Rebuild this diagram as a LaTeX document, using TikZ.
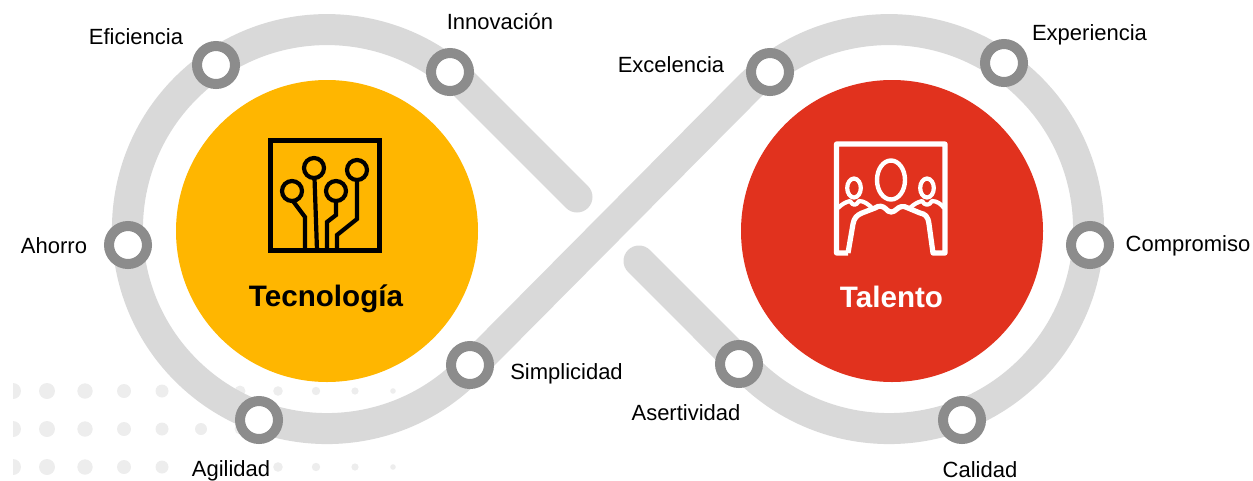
\documentclass[tikz,border=0pt]{standalone}
\usepackage{fontspec}
\setmainfont{Liberation Sans}
\definecolor{band}{HTML}{D9D9D9}
\definecolor{ringc}{HTML}{8C8C8C}
\definecolor{dotc}{HTML}{EDEDED}
\definecolor{amber}{HTML}{FFB600}
\definecolor{redc}{HTML}{E1321E}
\tikzset{
 marker/.style={circle,draw=ringc,line width=10pt,fill=white,minimum size=38pt,inner sep=0pt},
 lab/.style={font=\fontsize{22}{24}\selectfont,text=black,inner sep=0pt},
 bigc/.style={circle,minimum size=302pt,inner sep=0pt},
 title/.style={font=\fontsize{29.6}{32}\selectfont\bfseries,inner sep=0pt},
 bandl/.style={draw=band,line width=31pt,line cap=round,line join=round},
 ic/.style={draw=black,line width=4.5pt,line join=miter},
 wh/.style={draw=white,line width=5.2pt,line join=round,line cap=butt},
}
\begin{document}
\begin{tikzpicture}[x=1pt,y=-1pt]
\useasboundingbox (0,0) rectangle (1253,480);
% dots
\foreach \yy in {391,429,467}{
 \foreach \xx/\rr in {13/8,47/8,85/7.7,124/7,162/6.5,201/6,240/5.5,278/4.8,316/4.2,355/3.6,393/2.8}{
  \fill[dotc] (\xx,\yy) circle[radius=\rr];
 }
}
\fill[white] (0,380) rectangle (13,480);
% band
\coordinate (endA) at (577,197);
\coordinate (endB) at (639,261);
\draw[bandl] (endA) -- (468,88) arc[start angle=-45,end angle=-315,radius=199.5] -- (748,88) arc[start angle=-135,end angle=135,radius=199.5] -- (endB);
% big circles
\node[bigc,fill=amber] (tec) at (327,231) {};
\node[bigc,fill=redc] (tal) at (892,231) {};
\node[title,text=black] (tect) at (326,299) {Tecnología};
\node[title,text=white] (talt) at (891.5,297) {Talento};
% tech icon
\draw[ic] (270.5,140.5) rectangle (379.5,250.5);
\draw[ic,line width=4.2pt] (314,168) circle[radius=10] (292,191) circle[radius=10] (336,191) circle[radius=10] (357,170) circle[radius=10];
\draw[ic,line width=4.2pt] (314.5,178) -- (317,250);
\draw[ic,line width=4.2pt] (293,201) -- (305,217) -- (305,250);
\draw[ic,line width=4.2pt] (336,201) -- (336,215) -- (327,222) -- (327,250);
\draw[ic,line width=4.2pt] (357,180) -- (357,219) -- (337,235) -- (337,250);
% people icon
\draw[wh] (848,253) -- (836.5,253) -- (836.5,144) -- (945,144) -- (945,253) -- (933,253) -- (929,224) .. controls (928,216) and (925,214) .. (920,213) -- (908,208) .. controls (903,205) and (899,207) .. (897,209) .. controls (893,213) and (889,213) .. (886,209) .. controls (883,206) and (879,205) .. (875,208) -- (862,213) .. controls (857,215) and (854,218) .. (853,224) -- (848,253);
\draw[wh,line width=4.4pt] (891,180) ellipse[x radius=14,y radius=19.5];
\draw[wh,line width=4.2pt] (854,188) ellipse[x radius=6.8,y radius=9.5];
\draw[wh,line width=4.2pt] (927,188) ellipse[x radius=6.8,y radius=9.5];
\draw[wh,line width=4.2pt] (838,208) .. controls (842,204) and (846,202) .. (850,201) .. controls (853,206) and (856,206) .. (859,201) .. controls (864,201) and (868,204) .. (872,208);
\draw[wh,line width=4.2pt] (910,208) .. controls (914,204) and (918,202) .. (922,201) .. controls (925,206) and (929,206) .. (932,201) .. controls (937,201) and (941,204) .. (944,208);
% markers
\node[marker] (m1) at (216,65) {};
\node[marker] (m2) at (450,72) {};
\node[marker] (m3) at (128,245) {};
\node[marker] (m4) at (259,420) {};
\node[marker] (m5) at (470,365) {};
\node[marker] (m6) at (770,72) {};
\node[marker] (m7) at (1004,63) {};
\node[marker] (m8) at (1090,245) {};
\node[marker] (m9) at (962,420) {};
\node[marker] (m10) at (739,364) {};
% labels
\node[lab] (l1) at (136,37) {Eficiencia};
\node[lab] (l2) at (500,22) {Innovación};
\node[lab] (l3) at (54,246) {Ahorro};
\node[lab,fill=white,inner sep=1.5pt] (l4) at (231,470.5) {Agilidad};
\node[lab] (l5) at (566.5,374) {Simplicidad};
\node[lab] (l6) at (671,65) {Excelencia};
\node[lab] (l7) at (1089.5,35) {Experiencia};
\node[lab] (l8) at (1188,246) {Compromiso};
\node[lab] (l9) at (980,469.5) {Calidad};
\node[lab] (l10) at (686,413) {Asertividad};
\end{tikzpicture}
\end{document}
